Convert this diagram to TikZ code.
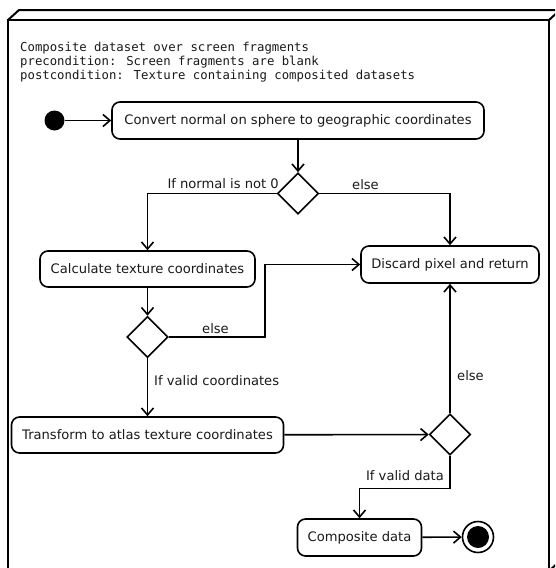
\documentclass[tikz,border=0pt]{standalone}
\usepackage{fontspec}
\setmainfont{DejaVu Sans}
\newfontfamily\monofont{DejaVu Sans Mono}
\usetikzlibrary{shapes.geometric,arrows.meta}

\begin{document}
\begin{tikzpicture}[x=1pt,y=-1pt,
  frame/.style={line width=2pt, line join=miter},
  act/.style={draw, line width=1.6pt, rounded corners=8pt, inner sep=0pt,
    font=\fontsize{13.1}{15}\selectfont, text=black!90},
  dec/.style={draw, diamond, line width=1.6pt, minimum width=41pt,
    minimum height=41pt, inner sep=0pt, aspect=1},
  flow/.style={line width=1.6pt, -{Straight Barb[length=7pt,width=12pt,line width=1.6pt]}},
  lbl/.style={font=\fontsize{13.1}{15}\selectfont, text=black!90, inner sep=0pt},
  hdr/.style={font=\monofont\fontsize{12.3}{14}\selectfont, text=black!90,
    inner sep=0pt, anchor=base west},
]
\useasboundingbox (0,0) rectangle (555,568);

% 3D frame of the activity
\begin{scope}
  \clip (0,0) rectangle (555,568);
  \draw[frame] (8,20) rectangle (549,571);
  \draw[frame] (8,20) -- (19,10) -- (560,10) -- (549,20);
  \draw[frame] (560,10) -- (560,561) -- (549,571);
\end{scope}

% header text
\node[hdr] (h1) at (20,51) {Composite dataset over screen fragments};
\node[hdr] (h2) at (20,65) {precondition: Screen fragments are blank};
\node[hdr] (h3) at (20,79) {postcondition: Texture containing composited datasets};

% initial and final nodes
\node[circle, fill, minimum size=20pt, inner sep=0pt] (start) at (54.5,120.5) {};
\node[circle, draw, line width=1.6pt, minimum size=31pt, inner sep=0pt] (stop) at (478,537) {};
\fill (stop.center) circle (11pt);

% actions
\node[act, minimum width=372pt, minimum height=37pt] (conv) at (298,120.5)
  {Convert normal on sphere to geographic coordinates};
\node[act, minimum width=215pt, minimum height=36pt] (calc) at (147.5,269)
  {Calculate texture coordinates};
\node[act, minimum width=178pt, minimum height=37pt] (disc) at (450,264.5)
  {Discard pixel and return};
\node[act, minimum width=272pt, minimum height=36pt] (trans) at (147.5,435)
  {Transform to atlas texture coordinates};
\node[act, minimum width=124pt, minimum height=37pt] (comp) at (359.5,537.5)
  {Composite data};

% decisions
\node[dec] (d1) at (298,193.5) {};
\node[dec] (d2) at (147.5,337) {};
\node[dec] (d3) at (450,434.5) {};

% flows
\draw[flow] (start) -- (conv);
\draw[flow] (conv) -- (d1);
\draw[flow] (d1.west) -| (calc.north);
\draw[flow] (d1.east) -| (disc.north);
\draw[flow] (calc) -- (d2);
\draw[flow] (d2.east) -- ++(96,0) coordinate (k1) |- (disc.west);
\draw[flow] (d2) -- (trans);
\draw[flow] (trans) -- (d3);
\draw[flow] (d3) -- (disc);
\draw[flow] (d3.south) -- ++(0,32.5) coordinate (k2) -| (comp.north);
\draw[flow] (comp) -- (stop);

% guards
\node[lbl, anchor=base east] at (279,188) {If normal is not 0};
\node[lbl, anchor=base west] at (352,189) {else};
\node[lbl, anchor=base west] at (202,333) {else};
\node[lbl, anchor=base west] at (154,385) {If valid coordinates};
\node[lbl, anchor=base west] at (457,380) {else};
\node[lbl, anchor=base east] at (444,480) {If valid data};
\end{tikzpicture}
\end{document}
